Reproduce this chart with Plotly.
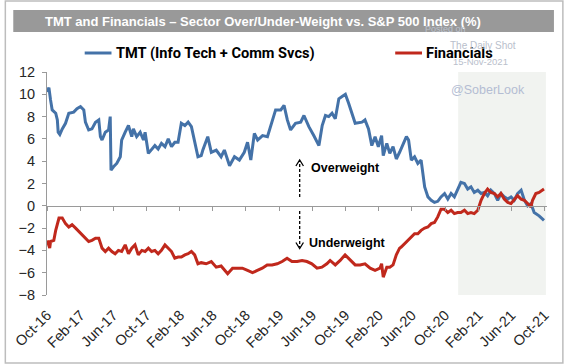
import plotly.graph_objects as go

# ---------------- data ----------------
tmt_dates = [
    "2016-10-02", "2016-10-08", "2016-10-14", "2016-10-20", "2016-11-02", "2016-11-08", "2016-11-11", "2016-11-17", "2016-11-26", "2016-12-08", "2016-12-20",
    "2017-01-07", "2017-01-19", "2017-02-01", "2017-02-13", "2017-02-19", "2017-03-03", "2017-03-15", "2017-03-28", "2017-04-09", "2017-04-15", "2017-04-21", "2017-05-03", "2017-05-15", "2017-05-21", "2017-05-24", "2017-06-02", "2017-06-14", "2017-06-27", "2017-07-02", "2017-07-15", "2017-07-27", "2017-08-08", "2017-08-14", "2017-08-26", "2017-09-08", "2017-09-20", "2017-09-26", "2017-10-08", "2017-10-20", "2017-11-01", "2017-11-13", "2017-11-25", "2017-12-08", "2017-12-20",
    "2018-01-01", "2018-01-13", "2018-01-25", "2018-02-06", "2018-02-19", "2018-03-03", "2018-03-15", "2018-03-27", "2018-04-08", "2018-04-20", "2018-04-26", "2018-05-14", "2018-05-27", "2018-06-14", "2018-07-02", "2018-07-14", "2018-08-02", "2018-08-20", "2018-09-07", "2018-09-25", "2018-10-07", "2018-10-19", "2018-11-01", "2018-11-13", "2018-12-01", "2018-12-19", "2018-12-31",
    "2019-01-18", "2019-02-06", "2019-02-18", "2019-03-02", "2019-03-14", "2019-04-01", "2019-04-20", "2019-05-02", "2019-05-20", "2019-06-07", "2019-06-26", "2019-07-08", "2019-07-20", "2019-08-01", "2019-08-13", "2019-08-25", "2019-09-07", "2019-09-19", "2019-10-01", "2019-10-13", "2019-10-25", "2019-11-06", "2019-12-01", "2019-12-12", "2019-12-25",
    "2020-01-06", "2020-01-18", "2020-01-30", "2020-02-11", "2020-02-17", "2020-03-01", "2020-03-12", "2020-03-24", "2020-04-05", "2020-04-17", "2020-04-30", "2020-05-12", "2020-05-20", "2020-05-30", "2020-06-11", "2020-06-23", "2020-07-05", "2020-07-18", "2020-07-30", "2020-08-11", "2020-08-23", "2020-09-04", "2020-09-16", "2020-09-29", "2020-10-11", "2020-10-23", "2020-11-04", "2020-11-16", "2020-11-28", "2020-12-11", "2020-12-23",
    "2021-01-04", "2021-01-16", "2021-01-29", "2021-02-10", "2021-02-22", "2021-03-06", "2021-03-18", "2021-03-31", "2021-04-12", "2021-04-24", "2021-05-06", "2021-05-19", "2021-05-31", "2021-06-12", "2021-06-24", "2021-07-07", "2021-07-19", "2021-07-31", "2021-08-12", "2021-08-24", "2021-09-11", "2021-09-29",
]
tmt_values = [
    10.2, 10.6, 9.5, 8.6, 8.3, 7.7, 6.6, 6.4, 6.9, 7.4, 8.3,
    8.4, 8.7, 8.9, 8.6, 7.5, 6.8, 6.9, 7.5, 7.7, 6.2, 5.9, 6.6, 6.8, 8.0, 3.2, 3.5, 3.8, 4.4, 5.9, 6.6, 7.2, 6.2, 6.9, 6.2, 6.6, 5.9, 6.6, 4.7, 5.1, 5.4, 5.1, 5.6, 5.3, 6.0,
    5.3, 5.7, 5.7, 7.4, 7.2, 7.5, 7.1, 5.6, 4.4, 4.5, 5.0, 6.2, 4.8, 5.0, 4.4, 5.0, 3.6, 4.4, 4.1, 4.8, 5.7, 4.1, 6.5, 5.9, 6.3, 6.2, 7.1,
    8.6, 8.6, 9.0, 7.7, 6.8, 7.4, 7.5, 8.1, 7.1, 6.3, 5.4, 7.2, 8.1, 8.0, 8.3, 7.8, 9.6, 9.8, 10.0, 9.2, 8.3, 7.4, 7.5, 7.7, 6.9,
    5.4, 6.2, 5.3, 6.3, 4.5, 5.6, 4.7, 5.3, 4.2, 4.8, 5.6, 6.2, 5.9, 4.1, 4.4, 3.8, 4.1, 1.7, 0.8, 0.5, 0.3, 0.4, 0.8, 1.1, 0.6, 1.1, 0.8, 1.5, 2.1, 2.0, 1.5,
    1.7, 1.2, 1.4, 1.1, 1.2, 0.9, 1.4, 1.1, 0.5, 1.1, 0.8, 0.6, 0.8, 0.5, 1.1, 1.4, 0.5, 0.0, 0.2, -0.6, -0.9, -1.3,
]

fin_dates = [
    "2016-10-02", "2016-10-11", "2016-10-14", "2016-10-26", "2016-11-02", "2016-11-08", "2016-11-14", "2016-11-26", "2016-12-08", "2016-12-20",
    "2017-01-01", "2017-01-14", "2017-01-26", "2017-02-07", "2017-02-19", "2017-03-03", "2017-03-15", "2017-03-28", "2017-04-09", "2017-04-21", "2017-05-03", "2017-05-15", "2017-05-27", "2017-06-08", "2017-06-20", "2017-07-02", "2017-07-15", "2017-07-27", "2017-08-08", "2017-08-20", "2017-09-01", "2017-09-14", "2017-09-26", "2017-10-08", "2017-10-20", "2017-11-01", "2017-11-13", "2017-11-25", "2017-12-08", "2017-12-20",
    "2018-01-01", "2018-01-13", "2018-01-25", "2018-02-06", "2018-02-19", "2018-03-03", "2018-03-15", "2018-03-27", "2018-04-08", "2018-04-20", "2018-05-08", "2018-05-27", "2018-06-14", "2018-07-02", "2018-07-26", "2018-08-13", "2018-08-31", "2018-09-18", "2018-10-07", "2018-10-25", "2018-11-12", "2018-11-30", "2018-12-18",
    "2019-01-05", "2019-01-24", "2019-02-11", "2019-03-01", "2019-03-19", "2019-04-07", "2019-04-25", "2019-05-13", "2019-05-31", "2019-06-19", "2019-07-07", "2019-07-25", "2019-08-06", "2019-08-25", "2019-09-12", "2019-09-30", "2019-10-19", "2019-11-06", "2019-11-24", "2019-12-12", "2019-12-31",
    "2020-01-18", "2020-02-05", "2020-02-11", "2020-02-17", "2020-03-01", "2020-03-12", "2020-03-24", "2020-04-05", "2020-04-17", "2020-04-23", "2020-05-05", "2020-05-17", "2020-05-30", "2020-06-11", "2020-06-23", "2020-07-05", "2020-07-18", "2020-07-30", "2020-08-11", "2020-08-23", "2020-09-04", "2020-09-16", "2020-09-29", "2020-10-11", "2020-10-23", "2020-11-04", "2020-11-16", "2020-11-28", "2020-12-11", "2020-12-23",
    "2021-01-04", "2021-01-16", "2021-01-29", "2021-02-10", "2021-02-22", "2021-03-06", "2021-03-18", "2021-03-31", "2021-04-12", "2021-04-24", "2021-05-06", "2021-05-19", "2021-05-31", "2021-06-12", "2021-06-24", "2021-07-07", "2021-07-19", "2021-07-31", "2021-08-12", "2021-08-18", "2021-08-30", "2021-09-11", "2021-09-24", "2021-09-29",
]
fin_values = [
    -3.1, -3.8, -3.2, -3.1, -2.2, -1.6, -1.1, -1.1, -1.6, -1.9,
    -1.7, -2.0, -2.3, -2.6, -2.9, -3.2, -3.1, -2.9, -2.9, -3.8, -4.1, -3.8, -4.1, -4.3, -4.0, -4.1, -3.5, -4.3, -3.8, -3.5, -4.4, -4.0, -4.1, -3.8, -4.1, -4.0, -4.3, -4.0, -3.5, -3.8,
    -4.1, -4.7, -4.6, -4.6, -4.4, -4.3, -4.1, -4.4, -5.2, -5.1, -5.2, -5.0, -5.5, -5.4, -6.1, -5.6, -5.6, -5.6, -5.8, -6.0, -5.8, -5.6, -5.3,
    -5.3, -5.2, -5.0, -4.7, -5.0, -5.0, -4.9, -5.0, -5.2, -5.6, -5.5, -5.2, -4.9, -5.3, -4.9, -4.4, -4.9, -5.3, -5.3, -5.2, -5.6,
    -5.8, -5.6, -5.2, -6.4, -5.5, -5.5, -5.3, -4.4, -3.8, -3.7, -3.4, -3.1, -2.8, -2.5, -2.5, -2.2, -2.0, -1.9, -1.6, -1.5, -1.0, -0.3, -0.3, -0.6, -0.4, -0.7, -0.6, -0.6, -0.4, -0.7,
    -0.6, -0.7, -0.4, 0.5, 1.1, 1.5, 1.2, 1.1, 0.8, 1.1, 0.6, 0.3, 0.2, 0.6, 0.9, 0.6, 0.5, 0.2, -0.1, 0.5, 1.1, 1.2, 1.4, 1.5,
]

series_names = ["TMT (Info Tech + Comm Svcs)", "Financials"]
series_colors = ["#4472a8", "#c0281c"]
title_text = "TMT and Financials \u2013 Sector Over/Under-Weight vs. S&P 500 Index (%)"
x_range = ["2016-10-01", "2021-10-10"]
y_range = [-8, 12]
shade_range = ["2020-11-18", "2021-10-06"]

# ---------------- figure ----------------
W, H = 564, 364
ML, MR, MT, MB = 43, 17, 72, 69
PW, PH = W - ML - MR, H - MT - MB


def px(xpix):
    return (xpix - ML) / PW


def py(ypix):
    return (H - MB - ypix) / PH


fig = go.Figure()
fig.add_trace(go.Scatter(x=tmt_dates, y=tmt_values, mode="lines", name=series_names[0],
                         line=dict(color=series_colors[0], width=3), hoverinfo="skip"))
fig.add_trace(go.Scatter(x=fin_dates, y=fin_values, mode="lines", name=series_names[1],
                         line=dict(color=series_colors[1], width=3), hoverinfo="skip"))
# carrier for the zero-line axis (invisible)
fig.add_trace(go.Scatter(x=tmt_dates[:1], y=tmt_values[:1], xaxis="x2", mode="markers",
                         marker=dict(opacity=0), hoverinfo="skip", showlegend=False))

tick_font = dict(family="Liberation Sans, Arial, sans-serif", size=14.5, color="#262626")

fig.update_layout(
    width=W, height=H,
    margin=dict(l=ML, r=MR, t=MT, b=MB, pad=0),
    paper_bgcolor="white", plot_bgcolor="white",
    showlegend=False,
    xaxis=dict(type="date", range=x_range, tick0="2016-10-01", dtick="M4", tickformat="%b-%y",
               tickangle=-45, tickfont=tick_font, showgrid=False, zeroline=False,
               showline=False, ticks="", ticklabelstandoff=8),
    xaxis2=dict(type="date", range=x_range, tick0="2016-10-01", dtick="M4", overlaying="x",
                anchor="free", position=0.4, side="bottom", showline=True, linecolor="#9a9a9a",
                linewidth=1, ticks="outside", ticklen=4, tickcolor="#9a9a9a",
                showticklabels=False, showgrid=False, zeroline=False),
    yaxis=dict(range=y_range, dtick=2, tickfont=tick_font, showgrid=False, zeroline=False,
               showline=True, linecolor="#9a9a9a", linewidth=1, ticks="outside", ticklen=4,
               tickcolor="#9a9a9a", ticklabelstandoff=4),
)

shapes = []
# shaded recent period
shapes.append(dict(type="rect", xref="x", yref="y", x0=shade_range[0], x1=shade_range[1],
                   y0=y_range[0], y1=y_range[1], fillcolor="#f1f3f0", line=dict(width=0),
                   layer="below"))
# outer frame
shapes.append(dict(type="rect", xref="paper", yref="paper", x0=px(1), x1=px(563), y0=py(363),
                   y1=py(1), line=dict(color="#bdbdbd", width=1.5), fillcolor="rgba(0,0,0,0)"))
# title bar
shapes.append(dict(type="rect", xref="paper", yref="paper", x0=px(9), x1=px(554), y0=py(32),
                   y1=py(10), fillcolor="#999999", line=dict(width=0)))
# legend line samples
LEG_Y = 53
shapes.append(dict(type="line", xref="paper", yref="paper", x0=px(81), x1=px(108), y0=py(LEG_Y),
                   y1=py(LEG_Y), line=dict(color=series_colors[0], width=3)))
shapes.append(dict(type="line", xref="paper", yref="paper", x0=px(394), x1=px(421), y0=py(LEG_Y),
                   y1=py(LEG_Y), line=dict(color=series_colors[1], width=3)))
# dashed arrows
ax = 297.7
shapes.append(dict(type="line", xref="paper", yref="paper", x0=px(ax), x1=px(ax), y0=py(197),
                   y1=py(161), line=dict(color="black", width=1.3, dash="3px,2px")))
shapes.append(dict(type="path", xref="paper", yref="paper",
                   path=f"M {px(ax-3.8)},{py(166)} L {px(ax)},{py(160)} L {px(ax+3.8)},{py(166)}",
                   line=dict(color="black", width=1.3)))
shapes.append(dict(type="line", xref="paper", yref="paper", x0=px(ax), x1=px(ax), y0=py(211),
                   y1=py(247), line=dict(color="black", width=1.3, dash="3px,2px")))
shapes.append(dict(type="path", xref="paper", yref="paper",
                   path=f"M {px(ax-3.8)},{py(242.5)} L {px(ax)},{py(248.5)} L {px(ax+3.8)},{py(242.5)}",
                   line=dict(color="black", width=1.3)))
fig.update_layout(shapes=shapes)

ann = []
ann.append(dict(text=f"<b>{title_text}</b>", xref="paper", yref="paper", x=px(261), y=py(21),
                xanchor="center", yanchor="middle", showarrow=False,
                font=dict(family="Liberation Sans, Arial, sans-serif", size=13, color="white")))
legend_font = dict(family="Roboto, Liberation Sans, sans-serif", size=14.6, color="black")
ann.append(dict(text=f"<b>{series_names[0]}</b>", xref="paper", yref="paper", x=px(110.5), y=py(LEG_Y),
                xanchor="left", yanchor="middle", showarrow=False, font=legend_font))
ann.append(dict(text=f"<b>{series_names[1]}</b>", xref="paper", yref="paper", x=px(423), y=py(LEG_Y),
                xanchor="left", yanchor="middle", showarrow=False, font=legend_font))
note_font = dict(family="Liberation Sans, Arial, sans-serif", size=12.5, color="black")
ann.append(dict(text="<b>Overweight</b>", xref="paper", yref="paper", x=px(307), y=py(168),
                xanchor="left", yanchor="middle", showarrow=False, font=note_font))
ann.append(dict(text="<b>Underweight</b>", xref="paper", yref="paper", x=px(305), y=py(243),
                xanchor="left", yanchor="middle", showarrow=False, font=note_font))
wm = "#b9c0cc"
wm_family = "Liberation Sans, Arial, sans-serif"
ann.append(dict(text="Posted on", xref="paper", yref="paper", x=px(445), y=py(29),
                xanchor="center", yanchor="middle", showarrow=False,
                font=dict(family=wm_family, size=9, color=wm)))
ann.append(dict(text="The Daily Shot", xref="paper", yref="paper", x=px(482), y=py(45),
                xanchor="center", yanchor="middle", showarrow=False,
                font=dict(family=wm_family, size=10, color=wm)))
ann.append(dict(text="15-Nov-2021", xref="paper", yref="paper", x=px(480), y=py(61),
                xanchor="center", yanchor="middle", showarrow=False,
                font=dict(family=wm_family, size=9.5, color=wm)))
ann.append(dict(text="@SoberLook", xref="paper", yref="paper", x=px(488), y=py(90),
                xanchor="center", yanchor="middle", showarrow=False,
                font=dict(family=wm_family, size=12.5, color="#b4bdd3")))
fig.update_layout(annotations=ann)

fig.write_html("out.html", config={"displayModeBar": False},
               post_script="document.body.style.margin='0';")
